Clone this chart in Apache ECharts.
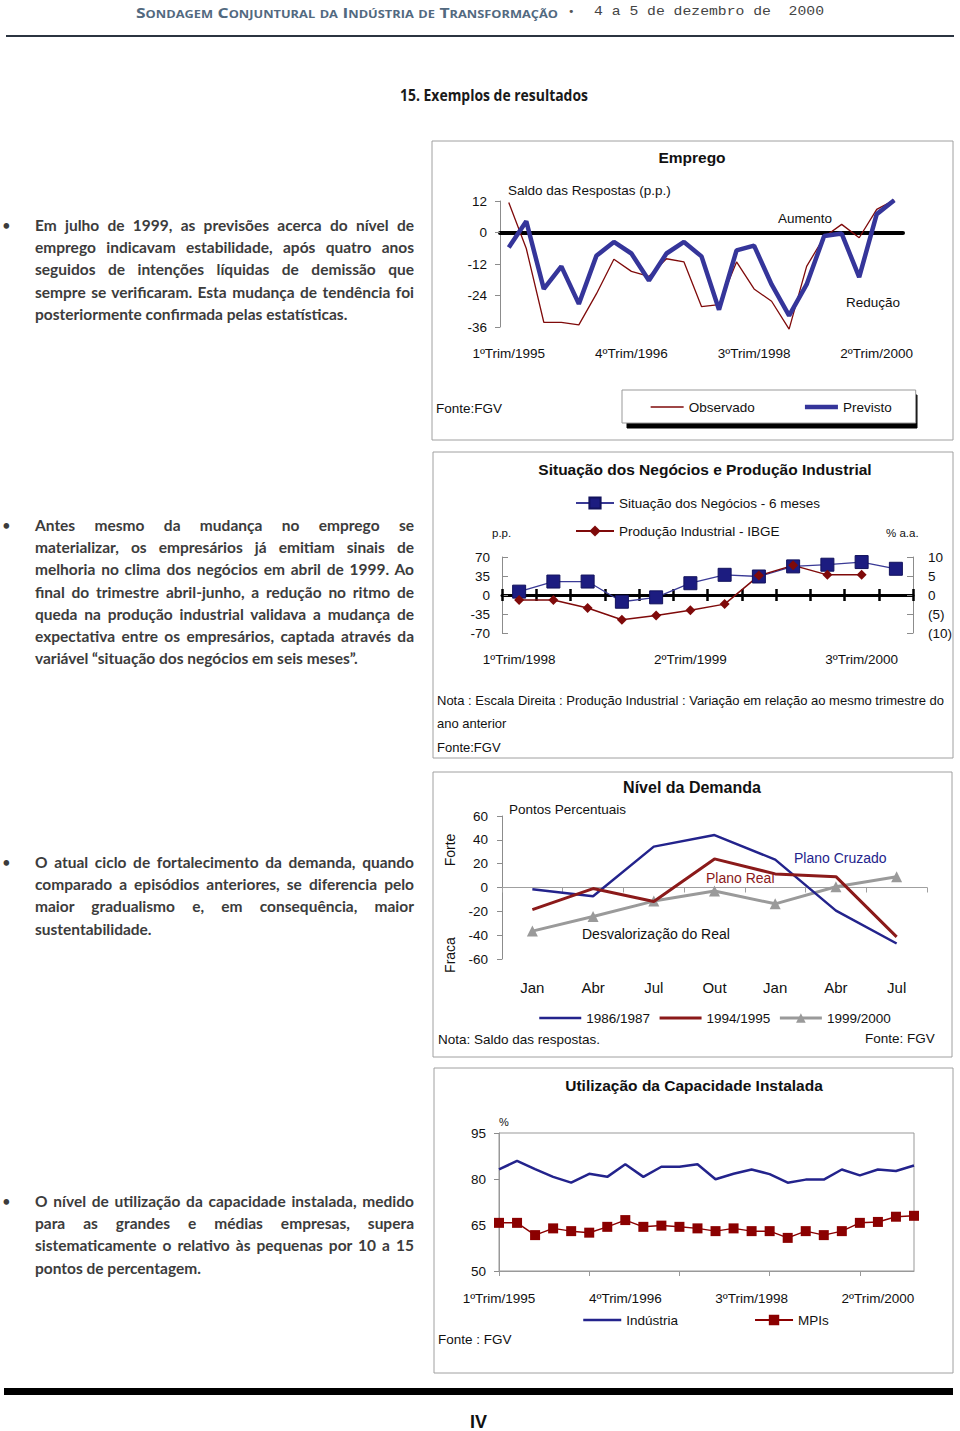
<!DOCTYPE html>
<html><head><meta charset="utf-8">
<script src="https://cdn.jsdelivr.net/npm/echarts@6/dist/echarts.min.js"></script>
<style>
html,body{margin:0;padding:0;background:#fff;}
#page{position:relative;width:960px;height:1431px;overflow:hidden;background:#fff;}
#chart{position:absolute;left:0;top:0;width:960px;height:1431px;}
.t{position:absolute;white-space:nowrap;transform-origin:0 50%;}
.para{position:absolute;left:35px;width:379px;font-family:Lato,"Open Sans",sans-serif;font-weight:700;font-size:15.5px;color:#3c3c3c;}
.para div{height:22.2px;line-height:22.2px;white-space:nowrap;}
.bullet{position:absolute;left:2px;font-family:Lato,sans-serif;font-size:15px;color:#3c3c3c;line-height:22px;}
</style></head>
<body><div id="page">
<div id="chart"></div>

<div class="t" data-fit="422" style="left:136px;top:2px;line-height:20px;font-family:'Open Sans';font-weight:700;font-variant:small-caps;font-size:15px;color:#52697f;">Sondagem Conjuntural da Indústria de Transformação</div>
<div class="t" style="left:568px;top:2px;line-height:20px;font-family:'DejaVu Sans';font-size:11px;color:#555;">•</div>
<div class="t" data-fit="230" style="left:594px;top:2px;line-height:20px;font-family:'Liberation Mono';font-size:13.5px;color:#444;white-space:pre;">4 a 5 de dezembro de  2000</div>
<div style="position:absolute;left:6px;top:35px;width:948px;height:2px;background:#2b3440;"></div>
<div class="t" data-fit="188" style="left:400px;top:84px;line-height:22px;font-family:'Open Sans';font-weight:700;font-size:16px;color:#1a1a1a;">15. Exemplos de resultados</div>

<div class="bullet" style="top:214px;">•</div>
<div class="para" style="top:214px;">
<div class="j"><span>Em julho de 1999, as previsões acerca do nível de</span></div>
<div class="j"><span>emprego indicavam estabilidade, após quatro anos</span></div>
<div class="j"><span>seguidos de intenções líquidas de demissão que</span></div>
<div class="j"><span>sempre se verificaram. Esta mudança de tendência foi</span></div>
<div><span>posteriormente confirmada pelas estatísticas.</span></div>
</div>

<div class="bullet" style="top:514px;">•</div>
<div class="para" style="top:514px;">
<div class="j"><span>Antes mesmo da mudança no emprego se</span></div>
<div class="j"><span>materializar, os empresários já emitiam sinais de</span></div>
<div class="j"><span>melhoria no clima dos negócios em abril de 1999. Ao</span></div>
<div class="j"><span>final do trimestre abril-junho, a redução no ritmo de</span></div>
<div class="j"><span>queda na produção industrial validava a mudança de</span></div>
<div class="j"><span>expectativa entre os empresários, captada através da</span></div>
<div><span>variável “situação dos negócios em seis meses”.</span></div>
</div>

<div class="bullet" style="top:851px;">•</div>
<div class="para" style="top:851px;">
<div class="j"><span>O atual ciclo de fortalecimento da demanda, quando</span></div>
<div class="j"><span>comparado a episódios anteriores, se diferencia pelo</span></div>
<div class="j"><span>maior gradualismo e, em consequência, maior</span></div>
<div><span>sustentabilidade.</span></div>
</div>

<div class="bullet" style="top:1190px;">•</div>
<div class="para" style="top:1190px;">
<div class="j"><span>O nível de utilização da capacidade instalada, medido</span></div>
<div class="j"><span>para as grandes e médias empresas, supera</span></div>
<div class="j"><span>sistematicamente o relativo às pequenas por 10 a 15</span></div>
<div><span>pontos de percentagem.</span></div>
</div>

<div style="position:absolute;left:4px;top:1388px;width:949px;height:7px;background:#000;"></div>
<div class="t" data-fit="17" style="left:470px;top:1413px;line-height:17px;font-family:'Liberation Sans';font-weight:700;font-size:19px;color:#111;">IV</div>
</div>

<script>
// ---------- DATA ----------
const empregoCats = ['1ºTrim/1995','2ºTrim/1995','3ºTrim/1995','4ºTrim/1995','1ºTrim/1996','2ºTrim/1996','3ºTrim/1996','4ºTrim/1996','1ºTrim/1997','2ºTrim/1997','3ºTrim/1997','4ºTrim/1997','1ºTrim/1998','2ºTrim/1998','3ºTrim/1998','4ºTrim/1998','1ºTrim/1999','2ºTrim/1999','3ºTrim/1999','4ºTrim/1999','1ºTrim/2000','2ºTrim/2000','3ºTrim/2000'];
const empregoObservado = [11.4,-6.1,-34.2,-34.2,-35.2,-23.4,-10.2,-14.8,-16.7,-10,-11.2,-28.2,-27.5,-11.2,-21.5,-26.2,-36.8,-12.9,-1.7,3.1,-2,8.8,12.4];
const empregoPrevisto = [-5.7,4.3,-21.5,-12.9,-27.2,-8.9,-3.6,-8,-18.3,-8,-3.6,-9.1,-29.4,-6.8,-5,-19.8,-31.7,-19.8,-1.3,-0.4,-17,7,12.3];

const negociosCats = ['1ºTrim/1998','2ºTrim/1998','3ºTrim/1998','4ºTrim/1998','1ºTrim/1999','2ºTrim/1999','3ºTrim/1999','4ºTrim/1999','1ºTrim/2000','2ºTrim/2000','3ºTrim/2000','4ºTrim/2000'];
const situacaoNegocios = [6.2,24.8,24.8,-12.4,-4.3,21.7,37.2,34.1,52.7,55.8,60.7,48.3];
const producaoIndustrial = [-1.3,-1.3,-3.4,-6.5,-5.4,-4.0,-2.4,5.1,7.8,5.3,5.3,null];

const demandaCats = ['Jan','Abr','Jul','Out','Jan','Abr','Jul'];
const demanda8687 = [-1.4,-7.4,34.3,44,23.4,-19.4,-47];
const demanda9495 = [-18.6,-0.9,-11.7,24,11.4,9.1,-41.4];
const demanda9900 = [-36.6,-24.3,-11.4,-2.9,-13.7,0.6,9.1];

const capacidadeCats = ['1ºTrim/1995','2ºTrim/1995','3ºTrim/1995','4ºTrim/1995','1ºTrim/1996','2ºTrim/1996','3ºTrim/1996','4ºTrim/1996','1ºTrim/1997','2ºTrim/1997','3ºTrim/1997','4ºTrim/1997','1ºTrim/1998','2ºTrim/1998','3ºTrim/1998','4ºTrim/1998','1ºTrim/1999','2ºTrim/1999','3ºTrim/1999','4ºTrim/1999','1ºTrim/2000','2ºTrim/2000','3ºTrim/2000','4ºTrim/2000'];
const capIndustria = [83.1,85.9,83.2,80.7,78.8,81.7,80.7,84.8,80.7,84.0,84.0,84.8,79.9,81.7,83.1,81.6,78.8,79.8,79.8,83.1,81.2,83.1,82.6,84.4];
const capMPIs = [65.7,65.7,61.7,63.9,63.0,62.5,64.4,66.6,64.4,64.8,64.4,63.9,63.0,63.9,63.0,63.0,60.8,63.0,61.7,63.0,65.7,66.0,67.7,68.0];

// ---------- STYLE ----------
const F = '"Liberation Sans", Arial, sans-serif';
const TXT = '#111';
const GRAY = '#8c8c8c';
const NAVY = '#23238c';
const DRED = '#7f0a0a';

function txt(x, y, text, size, opt) {
  opt = opt || {};
  return {
    type: 'text', x: x, y: y, rotation: opt.rotation || 0, z: 10,
    style: {
      text: text, fill: opt.color || TXT,
      font: (opt.bold ? 'bold ' : '') + size + 'px ' + F,
      textAlign: opt.align || 'left', textVerticalAlign: 'middle'
    }
  };
}
function box(x, y, w, h, opt) {
  opt = opt || {};
  return { type: 'rect', z: opt.z || 1, shape: { x: x, y: y, width: w, height: h },
    style: { fill: opt.fill || 'none', stroke: opt.stroke || '#a0a0a0', lineWidth: 1 } };
}
// legend entry for a plain line (no marker)
const lineOnly = (name, w) => ({ name: name, itemStyle: { opacity: 0 }, lineStyle: { width: w } });

const labelAxis = (gi, cats, interval, margin, size, extra) => Object.assign({
  type: 'category', gridIndex: gi, data: cats, position: 'bottom',
  axisLine: { show: false, onZero: false }, axisTick: { show: false },
  axisLabel: { interval: interval, margin: margin, fontSize: size, fontFamily: F, color: TXT },
  splitLine: { show: false }
}, extra || {});

const yAx = (gi, min, max, itv, margin, extra) => Object.assign({
  type: 'value', gridIndex: gi, min: min, max: max, interval: itv,
  axisLine: { show: true, lineStyle: { color: GRAY, width: 1 } },
  axisTick: { show: true, length: 5, lineStyle: { color: GRAY } },
  axisLabel: { margin: margin, fontSize: 13.5, fontFamily: F, color: TXT },
  splitLine: { show: false }
}, extra || {});

const option = {
  animation: false,
  backgroundColor: 'transparent',
  grid: [
    { left: 500, top: 201, width: 403, height: 126, outerBoundsMode: 'none' },
    { left: 502, top: 557, width: 411, height: 76, outerBoundsMode: 'none' },
    { left: 502, top: 816, width: 425, height: 143, outerBoundsMode: 'none' },
    { left: 499, top: 1133, width: 415, height: 138, show: true, borderColor: '#999', borderWidth: 1, outerBoundsMode: 'none' }
  ],
  xAxis: [
    labelAxis(0, empregoCats, 6, 19, 13.5),
    labelAxis(1, negociosCats, 4, 19, 13.5),
    { type: 'category', gridIndex: 1, data: negociosCats, position: 'bottom',
      axisLine: { show: true, onZero: true, lineStyle: { color: '#000', width: 3 } },
      axisTick: { show: true, interval: 0, inside: false, length: 6, lineStyle: { color: '#000', width: 2.5 } },
      axisLabel: { show: false }, splitLine: { show: false } },
    labelAxis(2, demandaCats, 0, 21, 15),
    { type: 'category', gridIndex: 2, data: demandaCats, position: 'bottom',
      axisLine: { show: true, onZero: true, lineStyle: { color: '#a0a0a0', width: 1 } },
      axisTick: { show: true, interval: 0, length: 5, lineStyle: { color: '#a0a0a0' } },
      axisLabel: { show: false }, splitLine: { show: false } },
    { type: 'category', gridIndex: 3, data: capacidadeCats, boundaryGap: false, position: 'bottom',
      axisLine: { show: true, onZero: false, lineStyle: { color: '#999' } },
      axisTick: { show: true, interval: 4, length: 5, lineStyle: { color: '#999' } },
      axisLabel: { interval: 6, margin: 20, fontSize: 13.5, fontFamily: F, color: TXT },
      splitLine: { show: false } },
    { type: 'category', gridIndex: 0, data: empregoCats, position: 'bottom',
      axisLine: { show: true, onZero: true, lineStyle: { color: '#000', width: 4 } },
      axisTick: { show: false }, axisLabel: { show: false }, splitLine: { show: false } },
    { type: 'category', gridIndex: 1, data: negociosCats, position: 'bottom',
      axisLine: { show: false, onZero: true },
      axisTick: { show: true, interval: 0, inside: true, length: 6, lineStyle: { color: '#000', width: 2.5 } },
      axisLabel: { show: false }, splitLine: { show: false } }
  ],
  yAxis: [
    yAx(0, -36, 12, 12, 13),
    yAx(1, -70, 70, 35, 12, { axisTick: { show: true, inside: true, length: 6, lineStyle: { color: GRAY } } }),
    yAx(1, -10, 10, 5, 15, { position: 'right',
      axisTick: { show: true, inside: true, length: 6, lineStyle: { color: GRAY } },
      axisLabel: { margin: 15, fontSize: 13.5, fontFamily: F, color: TXT,
        formatter: v => v < 0 ? '(' + Math.abs(v) + ')' : String(v) } }),
    yAx(2, -60, 60, 20, 14),
    yAx(3, 50, 95, 15, 13, { axisLine: { show: true, lineStyle: { color: '#999' } } })
  ],
  legend: [
    { left: 622, top: 390, orient: 'horizontal', padding: [10, 24, 9, 28], itemWidth: 33, itemHeight: 14, itemGap: 48,
      backgroundColor: '#fff', borderColor: '#999', borderWidth: 1, z: 20,
      textStyle: { fontSize: 13.5, fontFamily: F, color: TXT },
      data: [lineOnly('Observado', 1.3), lineOnly('Previsto', 4.5)] },
    { left: 575, top: 496, orient: 'vertical', padding: 0, itemWidth: 38, itemHeight: 14, itemGap: 14,
      textStyle: { fontSize: 13.5, fontFamily: F, color: TXT },
      data: ['Situação dos Negócios - 6 meses', 'Produção Industrial - IBGE'] },
    { left: 538, top: 1011, orient: 'horizontal', padding: 0, itemWidth: 42, itemHeight: 12, itemGap: 8,
      textStyle: { fontSize: 13.5, fontFamily: F, color: TXT },
      data: [lineOnly('1986/1987', 2.5), lineOnly('1994/1995', 3), { name: '1999/2000', lineStyle: { width: 3 } }] },
    { left: 582, top: 1313, orient: 'horizontal', padding: 0, itemWidth: 38, itemHeight: 13, itemGap: 76,
      textStyle: { fontSize: 13.5, fontFamily: F, color: TXT },
      data: [lineOnly('Indústria', 2.5), 'MPIs'] }
  ],
  series: [
    { name: 'Observado', type: 'line', xAxisIndex: 0, yAxisIndex: 0, data: empregoObservado, clip: false,
      symbol: 'none', color: DRED, lineStyle: { color: DRED, width: 1.3 }, z: 3 },
    { name: 'Previsto', type: 'line', xAxisIndex: 0, yAxisIndex: 0, data: empregoPrevisto, clip: false,
      symbol: 'none', color: '#35359a', lineStyle: { color: '#35359a', width: 4.5 }, z: 4 },
    { name: 'Situação dos Negócios - 6 meses', type: 'line', xAxisIndex: 1, yAxisIndex: 1, data: situacaoNegocios,
      symbol: 'rect', symbolSize: 13, color: '#1c1c80', lineStyle: { color: '#3a3a96', width: 1.3 },
      itemStyle: { color: '#1c1c80', borderColor: '#12125c', borderWidth: 1 }, z: 4 },
    { name: 'Produção Industrial - IBGE', type: 'line', xAxisIndex: 1, yAxisIndex: 2, data: producaoIndustrial,
      symbol: 'diamond', symbolSize: 10, color: DRED, lineStyle: { color: DRED, width: 1.5 },
      itemStyle: { color: DRED }, z: 4 },
    { name: '1986/1987', type: 'line', xAxisIndex: 3, yAxisIndex: 3, data: demanda8687,
      symbol: 'none', color: NAVY, lineStyle: { color: NAVY, width: 2.5 }, z: 4 },
    { name: '1994/1995', type: 'line', xAxisIndex: 3, yAxisIndex: 3, data: demanda9495,
      symbol: 'none', color: '#8b1a1a', lineStyle: { color: '#8b1a1a', width: 3 }, z: 4 },
    { name: '1999/2000', type: 'line', xAxisIndex: 3, yAxisIndex: 3, data: demanda9900,
      symbol: 'triangle', symbolSize: 11, color: '#9a9a9a', lineStyle: { color: '#9a9a9a', width: 3 },
      itemStyle: { color: '#9a9a9a' }, z: 3 },
    { name: 'Indústria', type: 'line', xAxisIndex: 5, yAxisIndex: 4, data: capIndustria,
      symbol: 'none', color: NAVY, lineStyle: { color: NAVY, width: 2.5 }, z: 4 },
    { name: 'MPIs', type: 'line', xAxisIndex: 5, yAxisIndex: 4, data: capMPIs,
      symbol: 'rect', symbolSize: 10, color: '#8b0000', lineStyle: { color: '#8b0000', width: 1.5 },
      itemStyle: { color: '#8b0000' }, z: 4 }
  ],
  graphic: [
    box(432, 141, 521, 299),
    box(433, 452, 520, 306),
    box(433, 772, 519, 285),
    box(434, 1068, 519, 305),
    box(627, 395, 290, 33, { fill: '#000', stroke: '#000', z: 2 }),

    txt(692, 157, 'Emprego', 15.5, { bold: true, align: 'center' }),
    txt(508, 190, 'Saldo das Respostas (p.p.)', 13.5),
    txt(778, 218, 'Aumento', 13.5),
    txt(846, 302, 'Redução', 13.5),
    txt(436, 408, 'Fonte:FGV', 13.5),

    txt(705, 469, 'Situação dos Negócios e Produção Industrial', 15.5, { bold: true, align: 'center' }),
    txt(492, 533, 'p.p.', 11.5),
    txt(886, 533, '% a.a.', 11.5),
    txt(437, 700, 'Nota : Escala Direita : Produção Industrial : Variação em relação ao mesmo trimestre do', 13),
    txt(437, 723, 'ano anterior', 13),
    txt(437, 747, 'Fonte:FGV', 13),

    txt(692, 787, 'Nível da Demanda', 16, { bold: true, align: 'center' }),
    txt(509, 809, 'Pontos Percentuais', 13.5),
    txt(450, 850, 'Forte', 14, { align: 'center', rotation: Math.PI / 2 }),
    txt(450, 955, 'Fraca', 14, { align: 'center', rotation: Math.PI / 2 }),
    txt(794, 858, 'Plano Cruzado', 14, { color: NAVY }),
    txt(706, 878, 'Plano Real', 14, { color: '#8b1a1a' }),
    txt(582, 934, 'Desvalorização do Real', 14),
    txt(438, 1039, 'Nota: Saldo das respostas.', 13.5),
    txt(865, 1038, 'Fonte: FGV', 13.5),

    txt(694, 1085, 'Utilização da Capacidade Instalada', 15.5, { bold: true, align: 'center' }),
    txt(499, 1122, '%', 11),
    txt(438, 1339, 'Fonte : FGV', 13.5)
  ]
};

const chart = echarts.init(document.getElementById('chart'), null, { renderer: 'svg', width: 960, height: 1431 });
chart.setOption(option);

function layoutText() {
  document.querySelectorAll('[data-fit]').forEach(el => {
    el.style.transform = 'none';
    const w = parseFloat(el.dataset.fit);
    const nat = el.getBoundingClientRect().width;
    if (nat > 0) el.style.transform = 'scaleX(' + (w / nat) + ')';
  });
  document.querySelectorAll('.para div.j').forEach(d => {
    const span = d.firstElementChild;
    span.style.wordSpacing = '0px';
    const nat = span.getBoundingClientRect().width;
    const spaces = (span.textContent.match(/ /g) || []).length;
    if (spaces > 0) span.style.wordSpacing = ((379 - nat) / spaces) + 'px';
  });
}
layoutText();
if (document.fonts && document.fonts.ready) document.fonts.ready.then(layoutText);
</script>
</body></html>
